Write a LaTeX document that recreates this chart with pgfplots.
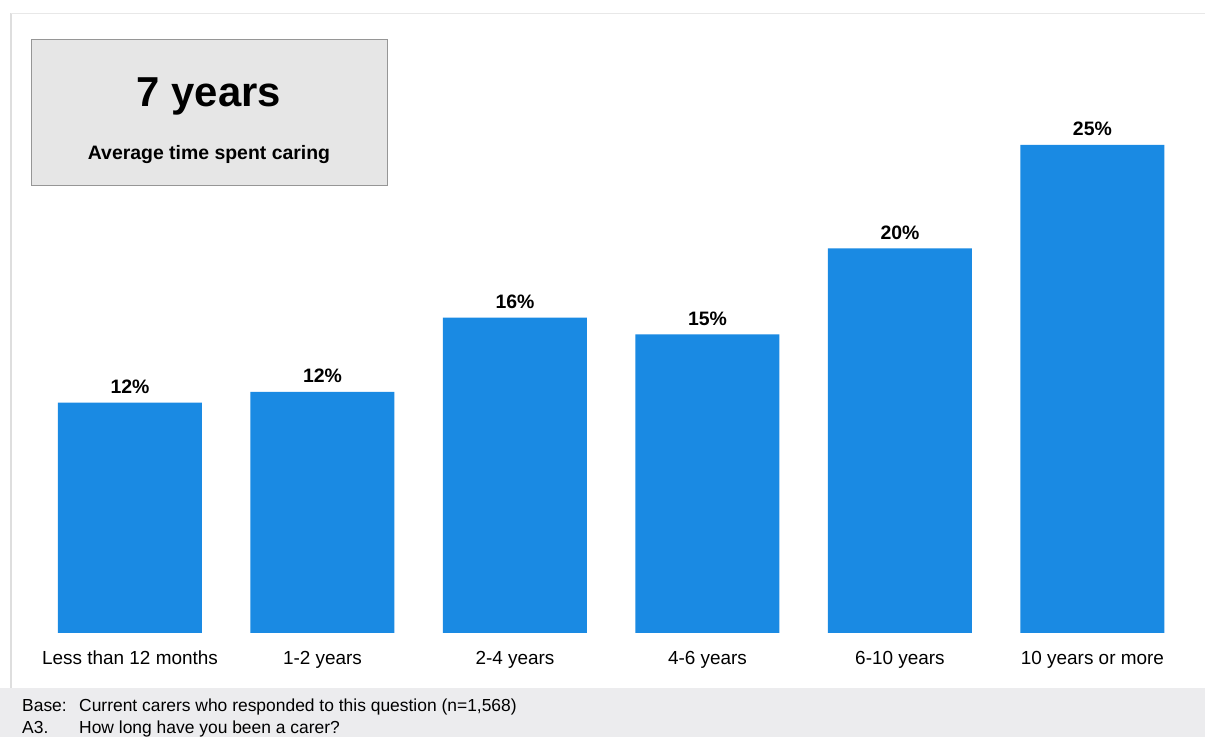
\documentclass[border=0pt]{standalone}
\usepackage{pgfplots}
\pgfplotsset{compat=1.18}
\usepackage{fontspec}
\setmainfont{Liberation Sans}
\definecolor{barblue}{RGB}{26,138,227}
\definecolor{boxgray}{RGB}{230,230,230}
\definecolor{boxedge}{RGB}{150,150,150}
\definecolor{footgray}{RGB}{236,236,238}
\definecolor{framegray}{RGB}{222,222,222}
\begin{document}
\begin{tikzpicture}[x=1bp,y=1bp]
\useasboundingbox (0,0) rectangle (1205,737);
\fill[white] (0,0) rectangle (1205,737);
% frame lines
\draw[framegray, line width=2.5bp] (11,49) -- (11,724);
\draw[framegray!70, line width=0.8bp] (11,724) -- (1205,724);
% footer band
\fill[footgray] (0,0) rectangle (1205,49);
\node[anchor=base west, font=\fontsize{17.5}{20}\selectfont, inner sep=0] at (22,25) {Base:};
\node[anchor=base west, font=\fontsize{17.5}{20}\selectfont, inner sep=0] at (79,25) {Current carers who responded to this question (n=1,568)};
\node[anchor=base west, font=\fontsize{17.5}{20}\selectfont, inner sep=0] at (22,3) {A3.};
\node[anchor=base west, font=\fontsize{17.5}{20}\selectfont, inner sep=0] at (79,3) {How long have you been a carer?};
% info box
\draw[fill=boxgray, draw=boxedge, line width=1bp] (31,551) rectangle (387,697);
\node[font=\bfseries\fontsize{42}{48}\selectfont, inner sep=0] at (209,641) {7 years};
\node[font=\bfseries\fontsize{19.5}{23}\selectfont, inner sep=0] at (209,582) {Average time spent caring};
\begin{axis}[
  at={(33.75bp,104bp)}, anchor=south west,
  scale only axis, width=1155bp, height=585.6bp,
  xmin=-0.5, xmax=5.5, ymin=0, ymax=30,
  axis line style={draw=none},
  ybar, bar width=144bp,
  xtick={0,1,2,3,4,5},
  xticklabels={Less than 12 months,1-2 years,2-4 years,4-6 years,6-10 years,10 years or more},
  xticklabel style={anchor=base, yshift=-32bp, font=\fontsize{19}{22}\selectfont},
  ytick=\empty, major tick length=0,
  point meta=explicit symbolic,
  nodes near coords,
  nodes near coords style={anchor=base, yshift=9bp, inner sep=0, font=\bfseries\fontsize{19.5}{23}\selectfont},
  clip=false,
]
\addplot[fill=barblue, draw=none] coordinates {
  (0,11.8) [12\%]
  (1,12.35) [12\%]
  (2,16.15) [16\%]
  (3,15.3) [15\%]
  (4,19.7) [20\%]
  (5,25.0) [25\%]
};
\end{axis}
\end{tikzpicture}
\end{document}
